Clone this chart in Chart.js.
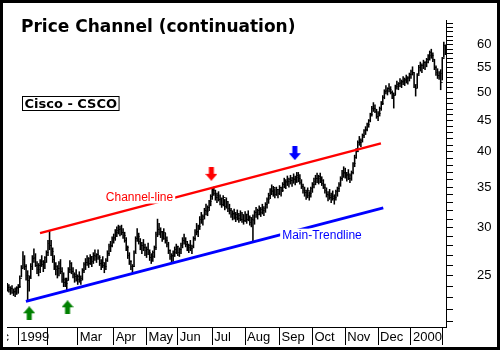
<!DOCTYPE html>
<html>
<head>
<meta charset="utf-8">
<script src="https://cdn.jsdelivr.net/npm/chart.js@4.4.0/dist/chart.umd.min.js"></script>
<style>
  html, body { margin: 0; padding: 0; background: #fff; }
  canvas { display: block; }
</style>
</head>
<body>
<canvas id="chart" width="500" height="350"></canvas>
<script>
// Cisco (CSCO) daily bars, Dec 22 1998 .. Feb 2000, x = trading day (0 = Jan 4 1999)
var firstDay = -7;

var highs = [
  24.3, 24.2, 24.0, 24.1, 23.8, 23.9, 24.0, 24.2, 25.0, 26.0,
  27.4, 27.0, 26.1, 25.5, 25.0, 26.2, 27.0, 27.7, 27.2, 26.4,
  26.2, 26.6, 27.0, 26.5, 26.9, 27.5, 28.6, 29.6, 28.6, 27.8,
  27.0, 26.3, 26.0, 26.4, 26.6, 25.8, 25.3, 24.8, 24.8, 25.8,
  26.5, 26.3, 25.8, 25.3, 25.6, 25.1, 25.4, 25.0, 25.7, 26.3,
  26.7, 27.0, 26.8, 27.1, 26.9, 27.3, 27.6, 27.2, 27.6, 27.0,
  26.6, 26.9, 26.3, 26.7, 27.5, 28.2, 28.5, 29.0, 29.3, 29.8,
  30.1, 30.3, 30.2, 30.3, 29.9, 29.5, 28.9, 28.0, 27.3, 26.5,
  26.1, 27.5, 29.0, 29.9, 29.4, 28.8, 28.4, 28.7, 28.2, 27.9,
  28.3, 27.6, 27.2, 27.5, 28.0, 29.5, 31.0, 30.5, 30.0, 29.6,
  29.9, 29.4, 29.0, 28.4, 27.6, 27.2, 27.5, 27.9, 28.2, 28.0,
  27.8, 28.3, 28.9, 29.3, 28.9, 28.5, 28.2, 28.6, 28.1, 29.0,
  29.8, 30.5, 30.3, 31.3, 31.8, 31.5, 32.3, 32.8, 32.6, 33.3,
  34.0, 34.9, 35.0, 34.6, 34.2, 34.4, 34.0, 33.6, 33.9, 33.4,
  33.6, 33.1, 32.8, 32.3, 32.0, 32.2, 31.8, 32.1, 31.7, 32.0,
  31.8, 31.5, 31.9, 31.6, 32.0, 31.4, 31.2, 31.5, 32.0, 32.4,
  32.2, 32.6, 32.4, 32.8, 32.5, 33.0, 33.6, 34.2, 34.8, 35.3,
  35.1, 34.8, 35.0, 34.7, 35.2, 35.0, 35.6, 36.2, 36.0, 36.5,
  36.2, 36.6, 36.3, 36.8, 36.5, 37.0, 37.0, 36.7, 36.0, 35.4,
  35.0, 34.6, 34.9, 34.4, 35.0, 35.6, 36.2, 36.6, 36.9, 36.6,
  36.9, 36.4, 36.0, 35.4, 34.9, 34.4, 34.7, 34.2, 34.5, 34.0,
  34.6, 35.0, 35.6, 36.4, 37.3, 37.8, 37.6, 37.0, 37.4, 36.8,
  37.2, 38.4, 39.5, 40.5, 41.7, 42.4, 42.0, 42.8, 43.5, 44.0,
  44.6, 45.2, 46.3, 47.5, 48.2, 47.8, 47.0, 46.6, 47.4, 48.4,
  49.5, 50.6, 51.4, 51.0, 51.8, 51.2, 50.4, 50.0, 51.5, 52.3,
  52.0, 52.8, 52.5, 53.2, 52.9, 53.5, 53.2, 53.9, 54.5, 55.2,
  54.0, 51.5, 53.8, 55.5, 56.2, 55.8, 56.6, 56.3, 57.0, 57.8,
  58.6, 59.0, 58.2, 56.8, 55.4, 54.8, 54.2, 54.6, 57.2, 60.6, 60.0
];

var lows = [
  23.6, 23.5, 23.3, 23.4, 23.2, 23.1, 23.3, 23.4, 23.9, 24.9,
  25.8, 25.6, 24.6, 22.8, 23.6, 24.8, 25.6, 26.3, 25.9, 25.2,
  25.0, 25.3, 25.9, 25.4, 25.7, 26.3, 27.0, 27.6, 27.0, 26.3,
  25.6, 25.1, 24.8, 25.0, 25.2, 24.4, 24.0, 24.0, 23.6, 24.6,
  25.3, 25.2, 24.8, 24.4, 24.5, 24.2, 24.4, 24.2, 24.6, 25.3,
  25.6, 26.0, 25.8, 26.1, 25.9, 26.2, 26.5, 26.3, 26.6, 26.0,
  25.6, 25.8, 25.3, 25.6, 26.4, 27.0, 27.4, 27.9, 28.3, 28.6,
  29.0, 29.3, 29.1, 29.2, 28.8, 28.4, 27.5, 26.7, 26.1, 25.6,
  25.2, 25.9, 27.3, 28.5, 28.2, 27.6, 27.2, 27.5, 27.0, 26.8,
  27.1, 26.5, 26.2, 26.4, 26.8, 27.6, 29.0, 29.2, 28.9, 28.5,
  28.7, 28.3, 27.9, 27.2, 26.6, 26.3, 26.4, 26.9, 27.2, 27.0,
  26.9, 27.2, 27.8, 28.2, 27.9, 27.5, 27.3, 27.5, 27.2, 27.8,
  28.6, 29.2, 29.0, 29.8, 30.5, 30.3, 31.0, 31.5, 31.4, 32.0,
  32.6, 33.4, 33.9, 33.3, 33.0, 33.2, 32.7, 32.4, 32.6, 32.1,
  32.3, 31.9, 31.6, 31.2, 30.9, 31.0, 30.7, 30.9, 30.6, 30.8,
  30.6, 30.4, 30.7, 30.5, 30.8, 30.3, 30.1, 28.5, 30.4, 31.2,
  31.0, 31.5, 31.3, 31.6, 31.4, 31.8, 32.3, 32.9, 33.5, 34.0,
  33.8, 33.6, 33.9, 33.6, 34.0, 33.8, 34.4, 34.9, 34.8, 35.2,
  35.0, 35.4, 35.1, 35.5, 35.3, 35.6, 35.7, 35.4, 34.8, 34.2,
  33.8, 33.4, 33.6, 33.3, 33.7, 34.3, 34.9, 35.3, 35.6, 35.4,
  35.6, 35.2, 34.8, 34.2, 33.7, 33.2, 33.4, 33.0, 33.3, 32.8,
  33.3, 33.8, 34.4, 35.1, 35.9, 36.3, 36.2, 35.8, 36.0, 35.6,
  35.9, 36.8, 37.8, 39.0, 40.0, 41.0, 40.8, 41.5, 42.2, 42.7,
  43.3, 43.9, 44.8, 45.8, 46.6, 46.4, 45.4, 45.0, 45.8, 46.8,
  47.8, 48.9, 49.8, 49.6, 50.2, 49.8, 48.9, 47.2, 49.6, 50.7,
  50.6, 51.2, 51.0, 51.6, 51.4, 51.9, 51.7, 52.3, 52.8, 53.5,
  51.0, 49.4, 51.0, 53.6, 54.3, 54.0, 54.8, 54.6, 55.2, 56.0,
  56.6, 57.0, 56.3, 54.6, 53.4, 52.8, 52.6, 50.6, 52.5, 57.2, 57.8
];

var closes = [
  23.9, 23.7, 23.8, 23.5, 23.6, 23.8, 23.9, 24.0, 24.8, 25.7,
  26.6, 25.9, 25.0, 24.6, 24.8, 25.9, 26.7, 26.8, 26.0, 25.6,
  26.0, 26.4, 26.1, 26.3, 26.8, 27.3, 28.3, 28.1, 27.4, 26.6,
  25.9, 25.6, 25.7, 26.2, 25.4, 24.7, 24.4, 24.3, 24.6, 25.6,
  26.2, 25.4, 25.1, 24.9, 24.7, 24.9, 24.6, 24.8, 25.5, 26.1,
  26.3, 26.7, 26.2, 26.9, 26.4, 27.0, 26.9, 27.1, 26.8, 26.2,
  26.3, 26.0, 25.9, 26.5, 27.2, 27.9, 28.1, 28.8, 28.9, 29.5,
  29.7, 29.8, 29.9, 29.5, 29.1, 28.6, 27.8, 27.0, 26.4, 25.9,
  25.9, 27.2, 28.8, 29.0, 28.5, 28.0, 28.1, 27.8, 27.5, 27.6,
  27.3, 26.8, 26.9, 27.3, 27.8, 29.2, 29.8, 29.5, 29.6, 28.8,
  29.5, 28.6, 28.2, 27.5, 26.9, 27.0, 27.3, 27.6, 27.9, 27.3,
  27.6, 28.0, 28.6, 28.5, 28.2, 27.8, 28.0, 27.7, 27.9, 28.8,
  29.5, 29.6, 30.1, 31.0, 30.9, 31.3, 32.0, 31.9, 32.4, 33.1,
  33.8, 34.6, 34.2, 33.6, 33.9, 33.4, 33.5, 32.8, 33.6, 32.5,
  33.2, 32.3, 32.0, 31.5, 31.7, 31.2, 31.5, 31.1, 31.4, 31.0,
  31.5, 30.8, 31.6, 30.9, 31.2, 30.6, 30.9, 30.8, 31.8, 31.6,
  32.0, 31.8, 32.2, 32.0, 32.3, 32.8, 33.4, 33.9, 34.6, 34.4,
  34.9, 34.0, 34.7, 34.2, 35.0, 34.6, 35.3, 35.6, 35.8, 35.7,
  36.0, 35.9, 36.1, 36.0, 36.3, 36.5, 36.2, 35.6, 35.1, 34.5,
  34.3, 33.9, 34.5, 34.2, 34.8, 35.3, 35.8, 36.1, 36.2, 36.4,
  35.9, 35.5, 35.0, 34.5, 34.0, 33.9, 33.6, 33.8, 33.5, 33.7,
  34.4, 34.8, 35.4, 36.2, 36.8, 37.0, 36.5, 36.7, 36.2, 36.6,
  37.0, 38.2, 39.2, 40.1, 41.4, 41.5, 41.8, 42.6, 43.3, 43.6,
  44.4, 45.0, 46.0, 47.2, 47.1, 46.6, 45.8, 46.3, 47.2, 48.1,
  49.2, 50.3, 50.5, 50.8, 50.6, 50.1, 49.5, 49.6, 51.2, 51.6,
  51.8, 52.1, 52.3, 52.5, 52.7, 52.9, 53.0, 53.6, 54.2, 54.0,
  51.6, 50.8, 53.5, 55.1, 55.4, 55.5, 56.0, 56.1, 56.8, 57.5,
  58.2, 57.6, 56.8, 55.0, 54.0, 53.4, 53.8, 52.0, 56.9, 59.8, 58.6
];

// month separators (trading day of the first session) and their labels
var monthDays = [-22, 0, 19, 38, 61, 82, 102, 124, 145, 167, 188, 209, 230, 251, 271];
var monthLabels = ["Dec", "1999", "", "Mar", "Apr", "May", "Jun", "Jul", "Aug", "Sep", "Oct", "Nov", "Dec", "2000", ""];

var priceLabels = [25, 30, 35, 40, 45, 50, 55, 60];

// drawn trendlines: [start, end] as {trading day, price}
var channelLine = [{ x: 13.9, y: 29.4 }, { x: 231.8, y: 41.3 }];
var mainTrendline = [{ x: 4.9, y: 22.7 }, { x: 233.3, y: 32.35 }];

// marker arrows
var greenArrows = [{ x: 7.0, y: 21.7 }, { x: 31.5, y: 22.2 }];
var redArrows = [{ x: 123.4, y: 36.8 }];
var blueArrows = [{ x: 176.8, y: 39.8 }];

var notes = [
  { text: "Channel-line", day: 77.5, price: 33.7, color: "#ff0000" },
  { text: "Main-Trendline", day: 194.1, price: 29.17, color: "#0000ff" }
];

var bars = highs.map(function (h, i) {
  return { x: firstDay + i, y: [lows[i], h] };
});
var closePts = closes.map(function (c, i) {
  return { x: firstDay + i, y: c };
});

function makeArrow(color, down) {
  var cv = document.createElement("canvas");
  cv.width = 12;
  cv.height = 14;
  var g = cv.getContext("2d");
  var shape = [[6, 0], [12, 7], [8.5, 7], [8.5, 14], [3.5, 14], [3.5, 7], [0, 7]];
  g.fillStyle = color;
  g.beginPath();
  shape.forEach(function (p, i) {
    var yy = down ? 14 - p[1] : p[1];
    if (i === 0) g.moveTo(p[0], yy);
    else g.lineTo(p[0], yy);
  });
  g.closePath();
  g.fill();
  return cv;
}

// little close tick on the right of each bar
var closeTick = document.createElement("canvas");
closeTick.width = 5;
closeTick.height = 1;
closeTick.getContext("2d").fillRect(3, 0, 1.5, 1);

var framePlugin = {
  id: "frame",
  beforeDraw: function (chart) {
    var c = chart.ctx;
    c.save();
    c.fillStyle = "#fff";
    c.fillRect(0, 0, chart.width, chart.height);
    c.restore();
  },
  afterDraw: function (chart) {
    var c = chart.ctx;
    var xs = chart.scales.x;
    var ys = chart.scales.y;
    c.save();

    // month labels are cut at the plot edges
    c.fillStyle = "#fff";
    c.fillRect(0, xs.top + 1, xs.left, xs.height);
    c.fillRect(xs.right - 2, xs.top + 1, chart.width - xs.right + 2, xs.height);

    // line captions on white boxes
    c.font = '12px "Liberation Sans", Arial, sans-serif';
    c.textAlign = "center";
    c.textBaseline = "middle";
    notes.forEach(function (n) {
      var px = xs.getPixelForValue(n.day);
      var py = ys.getPixelForValue(n.price);
      var w = c.measureText(n.text).width;
      c.fillStyle = "#fff";
      c.fillRect(px - w / 2 - 2, py - 6.5, w + 4, 13);
      c.fillStyle = n.color;
      c.fillText(n.text, px, py + 0.5);
    });

    // title
    c.textAlign = "left";
    c.textBaseline = "alphabetic";
    c.fillStyle = "#000";
    c.font = 'bold 17px "DejaVu Sans", sans-serif';
    c.fillText("Price Channel (continuation)", 21, 32);

    // ticker box
    c.font = 'bold 13px "DejaVu Sans", sans-serif';
    var tw = c.measureText("Cisco - CSCO").width;
    c.lineWidth = 1;
    c.strokeStyle = "#000";
    c.strokeRect(22.5, 96.5, tw + 4, 14);
    c.fillText("Cisco - CSCO", 24.5, 108);

    // outer frame
    c.lineWidth = 3;
    c.strokeRect(1.5, 1.5, chart.width - 3, chart.height - 3);
    c.restore();
  }
};

var ctx = document.getElementById("chart").getContext("2d");
new Chart(ctx, {
  type: "bar",
  data: {
    datasets: [
      {
        type: "line",
        data: greenArrows,
        showLine: false,
        pointStyle: makeArrow("#008000", false),
        pointRadius: 6,
        order: 0
      },
      {
        type: "line",
        data: redArrows,
        showLine: false,
        pointStyle: makeArrow("#ff0000", true),
        pointRadius: 6,
        order: 0
      },
      {
        type: "line",
        data: blueArrows,
        showLine: false,
        pointStyle: makeArrow("#0000ff", true),
        pointRadius: 6,
        order: 0
      },
      {
        type: "line",
        data: channelLine,
        borderColor: "#ff0000",
        borderWidth: 2.5,
        pointRadius: 0,
        order: 1
      },
      {
        type: "line",
        data: mainTrendline,
        borderColor: "#0000ff",
        borderWidth: 3,
        pointRadius: 0,
        order: 1
      },
      {
        type: "line",
        data: closePts,
        showLine: false,
        pointStyle: closeTick,
        pointRadius: 2,
        order: 2
      },
      {
        type: "bar",
        data: bars,
        backgroundColor: "#000",
        borderWidth: 0,
        barThickness: 0.9,
        order: 3
      }
    ]
  },
  options: {
    responsive: false,
    animation: false,
    events: [],
    layout: { padding: { left: 7, top: 20, right: 0, bottom: 0 } },
    plugins: {
      legend: { display: false },
      tooltip: { enabled: false }
    },
    scales: {
      x: {
        type: "linear",
        min: -7.2,
        max: 273.4,
        offset: false,
        grid: {
          offset: false,
          drawOnChartArea: false,
          drawTicks: true,
          tickLength: 18,
          color: "#000"
        },
        border: { display: true, color: "#000", width: 1 },
        ticks: {
          autoSkip: false,
          maxRotation: 0,
          minRotation: 0,
          align: "start",
          labelOffset: 2,
          padding: -15,
          color: "#000",
          font: { family: '"Liberation Sans", Arial, sans-serif', size: 13 },
          callback: function (v, i) {
            return monthLabels[i];
          }
        },
        afterBuildTicks: function (s) {
          s.ticks = monthDays.map(function (d) {
            return { value: d };
          });
        },
        afterFit: function (s) {
          s.height = 23;
          s.paddingLeft = 0;
          s.paddingRight = 0;
        }
      },
      y: {
        type: "logarithmic",
        position: "right",
        min: 20.6,
        max: 65.9,
        grid: {
          drawOnChartArea: false,
          drawTicks: true,
          tickLength: 7,
          color: "#000"
        },
        border: { display: true, color: "#000", width: 1 },
        ticks: {
          autoSkip: false,
          padding: 24,
          color: "#000",
          font: { family: '"Liberation Sans", Arial, sans-serif', size: 13 },
          callback: function (v) {
            return priceLabels.indexOf(v) >= 0 ? String(v) : "";
          }
        },
        afterBuildTicks: function (s) {
          var t = [];
          for (var p = 21; p <= 65; p++) t.push({ value: p });
          s.ticks = t;
        },
        afterFit: function (s) {
          s.width = 54;
          s.paddingTop = 0;
          s.paddingBottom = 0;
        }
      }
    }
  },
  plugins: [framePlugin]
});
</script>
</body>
</html>
